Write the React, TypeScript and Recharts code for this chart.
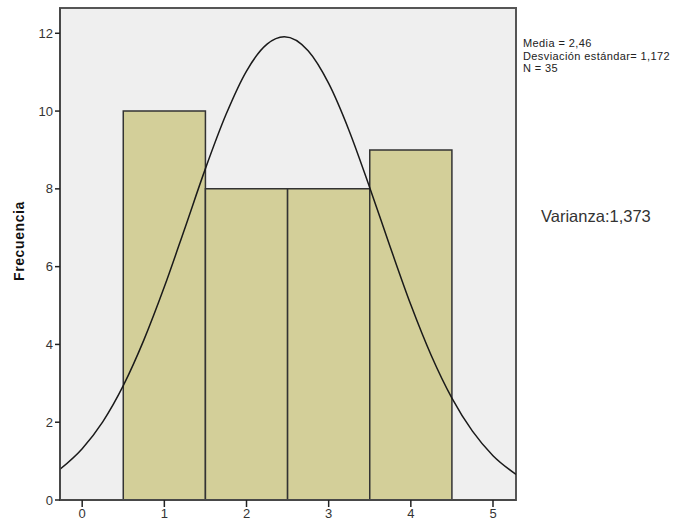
import {
  CartesianGrid,
  ComposedChart,
  Line,
  ReferenceArea,
  XAxis,
  YAxis,
} from "recharts";

// barras del histograma (intervalos de ancho 1 centrados en 1..4)
const binCenters = [1, 2, 3, 4];
const frequencies = [10, 8, 8, 9];

// curva normal
const curveX = [
  -0.27, 0, 0.25, 0.5, 0.75, 1, 1.25, 1.5, 1.75, 2, 2.25, 2.46, 2.75, 3, 3.25,
  3.5, 3.75, 4, 4.25, 4.5, 4.75, 5, 5.28,
];
const curveY = [
  0.79, 1.32, 2.01, 2.94, 4.11, 5.48, 6.99, 8.52, 9.91, 11.03, 11.72, 11.91,
  11.55, 10.71, 9.49, 8.03, 6.5, 5.02, 3.71, 2.62, 1.77, 1.14, 0.66,
];

const xTicks = [0, 1, 2, 3, 4, 5];
const yTicks = [0, 2, 4, 6, 8, 10, 12];

const statsLines = ["Media = 2,46", "Desviación estándar= 1,172", "N = 35"];
const varianceLabel = "Varianza:1,373";

const X_DOMAIN: [number, number] = [-0.27, 5.28];
const Y_DOMAIN: [number, number] = [0, 12.65];

const curveData = curveX.map((x, i) => ({ x, y: curveY[i] }));

const FONT = "'Liberation Sans', Arial, sans-serif";

export default function App() {
  return (
    <div
      style={{
        position: "absolute",
        left: 0,
        top: 0,
        width: 677,
        height: 524,
        background: "#fff",
        overflow: "hidden",
        fontFamily: FONT,
      }}
    >
      <ComposedChart
        width={677}
        height={524}
        data={curveData}
        margin={{ top: 8, right: 161, bottom: 0, left: 0 }}
      >
        <CartesianGrid
          horizontal={false}
          vertical={false}
          fill="#efefef"
          fillOpacity={1}
        />
        <XAxis
          dataKey="x"
          type="number"
          domain={X_DOMAIN}
          ticks={xTicks}
          allowDataOverflow
          height={24}
          tickSize={7}
          tickMargin={2}
          axisLine={{ stroke: "#444", strokeWidth: 1.5 }}
          tickLine={{ stroke: "#222", strokeWidth: 1.5 }}
          tick={{ fill: "#333", fontSize: 13, fontFamily: FONT }}
        />
        <YAxis
          type="number"
          domain={Y_DOMAIN}
          ticks={yTicks}
          allowDataOverflow
          width={60}
          tickSize={5}
          tickMargin={2}
          axisLine={{ stroke: "#444", strokeWidth: 1.5 }}
          tickLine={{ stroke: "#222", strokeWidth: 1.5 }}
          tick={{ fill: "#333", fontSize: 13, fontFamily: FONT }}
        />
        {binCenters.map((c, i) => (
          <ReferenceArea
            key={`bin-${c}`}
            x1={c - 0.5}
            x2={c + 0.5}
            y1={0}
            y2={frequencies[i]}
            fill="#d3cf99"
            fillOpacity={1}
            stroke="#333"
            strokeWidth={1.5}
            ifOverflow="visible"
          />
        ))}
        <ReferenceArea
          x1={X_DOMAIN[0]}
          x2={X_DOMAIN[1]}
          y1={Y_DOMAIN[0]}
          y2={Y_DOMAIN[1]}
          fill="none"
          stroke="#555"
          strokeWidth={2}
          ifOverflow="visible"
        />
        <Line
          dataKey="y"
          type="monotone"
          stroke="#1a1a1a"
          strokeWidth={1.5}
          dot={false}
          activeDot={false}
          isAnimationActive={false}
        />
      </ComposedChart>

      <div
        style={{
          position: "absolute",
          left: 19,
          top: 241,
          transform: "translate(-50%, -50%) rotate(-90deg)",
          fontWeight: "bold",
          fontSize: 14,
          color: "#111",
          whiteSpace: "nowrap",
          letterSpacing: 0.6,
        }}
      >
        Frecuencia
      </div>

      <div
        style={{
          position: "absolute",
          left: 523,
          top: 37,
          fontSize: 11,
          lineHeight: "12.5px",
          letterSpacing: 0.4,
          color: "#222",
          whiteSpace: "nowrap",
        }}
      >
        {statsLines.map((s) => (
          <div key={s}>{s}</div>
        ))}
      </div>

      <div
        style={{
          position: "absolute",
          left: 541,
          top: 207,
          fontSize: 16.5,
          color: "#333",
          whiteSpace: "nowrap",
        }}
      >
        {varianceLabel}
      </div>
    </div>
  );
}
